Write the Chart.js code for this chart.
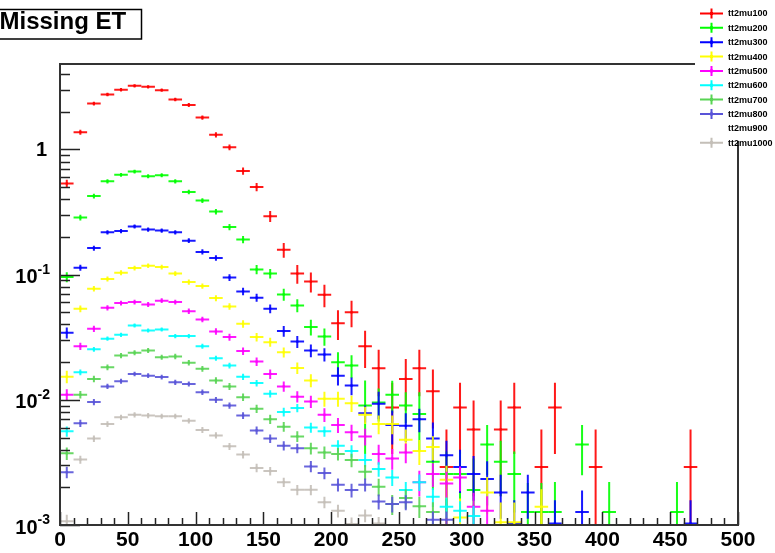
<!DOCTYPE html>
<html><head><meta charset="utf-8">
<script src="https://cdn.jsdelivr.net/npm/chart.js@4.4.0/dist/chart.umd.min.js"></script>
<style>html,body{margin:0;padding:0;background:#fff;overflow:hidden}#wrap{width:775px;height:553px;position:relative}</style>
</head><body><div id="wrap"><canvas id="c" width="775" height="553"></canvas></div>
<script>
// ---------- data ----------
const title = "Missing ET";
const binCenters = [5,15,25,35,45,55,65,75,85,95,105,115,125,135,145,155,165,175,185,195,205,215,225,235,245,255,265,275,285,295,305,315,325,335,345,355,365,375,385,395,405,415,425,435,445,455,465,475,485,495];
const binWidth = 10;
const seriesNames = ["tt2mu100","tt2mu200","tt2mu300","tt2mu400","tt2mu500","tt2mu600","tt2mu700","tt2mu800","tt2mu900","tt2mu1000"];
const seriesColors = ["#ff0000","#00ff00","#0000ff","#ffff00","#ff00ff","#00ffff","#59d454","#5954d8","#ffffff","#c4bfb8"];

const tt2mu100 = [0.535,1.375,2.33,2.75,3.0,3.23,3.17,2.98,2.51,2.27,1.80,1.31,1.04,0.674,0.502,0.293,0.158,0.102,0.088,0.069,0.041,0.050,0.0268,0.0179,0.0087,0.0147,0.0179,0.0117,0.0029,0.0087,0.0058,null,0.0058,0.0087,null,0.0029,0.0087,null,null,0.0029,null,null,null,null,null,null,0.0029];
const tt2mu100Err = [0.0394,0.0631,0.0822,0.0893,0.0933,0.0968,0.0959,0.093,0.0853,0.0811,0.0722,0.0616,0.0549,0.0442,0.0382,0.0292,0.0214,0.0172,0.016,0.0141,0.0109,0.012,0.0088,0.0072,0.0050,0.0065,0.0072,0.0058,0.0029,0.0050,0.0041,null,0.0041,0.0050,null,0.0029,0.0050,null,null,0.0029,null,null,null,null,null,null,0.0029];

const tt2mu200 = [0.0957,0.286,0.425,0.557,0.627,0.667,0.611,0.623,0.557,0.458,0.391,0.319,0.240,0.191,0.110,0.102,0.0695,0.0568,0.0381,0.0321,0.020,0.0188,0.0090,0.0095,0.0110,0.0090,0.0077,0.0032,0.00256,0.00256,0.0019,0.0044,0.0032,0.00256,0.00127,0.00127,0.00127,null,0.0044,null,0.00127,null,null,null,null,0.00127];
const tt2mu200Err = [0.0087,0.0151,0.0184,0.0211,0.0224,0.0231,0.0221,0.0223,0.0211,0.0191,0.0177,0.016,0.0139,0.0124,0.0094,0.009,0.0075,0.0067,0.0055,0.0051,0.004,0.0039,0.0053,0.0028,0.0032,0.0025,0.0038,0.0013,0.0013,0.0013,0.0015,0.0019,0.0015,0.0013,0.0009,0.0009,0.00094,null,0.0019,null,0.00094,null,null,null,null,0.00094];

const tt2mu300 = [0.0344,0.1138,0.163,0.218,0.223,0.243,0.229,0.225,0.218,0.187,0.152,0.136,0.095,0.0735,0.0655,0.0535,0.0354,0.0292,0.0248,0.023,0.0156,0.0130,0.0078,0.0093,0.0063,0.0062,0.0070,0.0049,0.0036,0.0029,0.00256,0.00233,0.00182,0.00103,0.00182,null,0.00103,null,0.00127,null,null,null,null,null,null,null,0.00103];
const tt2mu300Err = [0.0035,0.0063,0.0076,0.0087,0.0088,0.0092,0.009,0.0089,0.0087,0.0081,0.0073,0.0069,0.0058,0.0051,0.0048,0.0043,0.0035,0.0032,0.0029,0.0028,0.0026,0.0021,0.0012,0.0023,0.0019,0.0016,0.0015,0.0017,0.0011,0.0011,0.001,0.0009,0.0007,0.00055,0.0007,null,0.00055,null,0.00062,null,null,null,null,null,null,null,0.00055];

const tt2mu400 = [0.0153,0.0535,0.0773,0.0923,0.1037,0.113,0.118,0.115,0.102,0.0873,0.081,0.065,0.0557,0.0405,0.0317,0.0289,0.024,0.018,0.0143,0.0102,0.0102,0.0094,0.0076,0.0064,0.0064,0.0048,0.0039,0.0042,0.0023,0.00115,null,0.00182,0.00105,0.00105,null,0.0014];
const tt2mu400Err = [0.00175,0.0033,0.0039,0.0043,0.0046,0.0048,0.0049,0.0048,0.0045,0.0042,0.004,0.0036,0.0033,0.0028,0.0025,0.0024,0.0022,0.0019,0.0017,0.0014,0.0014,0.0014,0.0012,0.0011,0.0011,0.001,0.00088,0.00092,0.00068,0.00048,null,0.0006,0.00046,0.00046,null,0.00053];

const tt2mu500 = [0.011,0.0268,0.037,0.0544,0.0593,0.0604,0.0578,0.062,0.0604,0.0511,0.0439,0.0352,0.0317,0.0245,0.0202,0.0161,0.0128,0.0106,0.0097,0.0076,0.0063,0.0055,0.0051,0.0037,0.0034,0.0038,0.0022,0.00256,0.00215,0.0024,0.0014,0.0013];
const tt2mu500Err = [0.00115,0.0018,0.0021,0.0026,0.0027,0.0027,0.0026,0.0027,0.0027,0.0025,0.0023,0.0021,0.0020,0.0017,0.0016,0.0014,0.0012,0.0011,0.0011,0.00095,0.00087,0.00081,0.00078,0.00067,0.00064,0.00068,0.00051,0.00055,0.00051,0.00054,0.00041,0.0004];

const tt2mu600 = [0.0056,0.0166,0.0253,0.0308,0.0331,0.0393,0.0358,0.0365,0.0323,0.0323,0.0268,0.0215,0.0188,0.0153,0.0136,0.0112,0.008,0.0086,0.006,0.0056,0.0043,0.0039,0.0033,0.0028,0.0024,0.0019,0.0022,0.00168,0.0014,0.0013,0.00118];
const tt2mu600Err = [0.00053,0.00091,0.0011,0.0012,0.0013,0.0014,0.0013,0.0014,0.0013,0.0013,0.0012,0.001,0.00097,0.00087,0.00082,0.00075,0.00063,0.00066,0.00055,0.00053,0.00046,0.00044,0.00041,0.00037,0.00035,0.00031,0.00033,0.00029,0.00026,0.00025,0.00024];

const tt2mu700 = [0.00374,0.011,0.0147,0.0182,0.0226,0.0238,0.0248,0.0219,0.0222,0.0198,0.0177,0.0143,0.0128,0.0105,0.0085,0.0070,0.0061,0.0051,0.0041,0.0038,0.0037,0.0033,0.00266,0.00202,0.00147,0.00164,0.00141,0.00127];
const tt2mu700Err = [0.00043,0.00074,0.00086,0.00095,0.0011,0.0011,0.0011,0.001,0.0011,0.001,0.00094,0.00085,0.0008,0.00072,0.00065,0.00059,0.00055,0.0005,0.00045,0.00044,0.00043,0.00041,0.00036,0.00032,0.00027,0.00029,0.00027,0.00025];

const tt2mu800 = [0.00264,0.0065,0.0096,0.0128,0.0141,0.0161,0.0156,0.0152,0.0138,0.0134,0.0115,0.0100,0.009,0.0075,0.0057,0.0049,0.0043,0.0041,0.00294,0.0026,0.0021,0.0019,0.0021,0.00154,0.00147,0.00152,null,0.0011,0.0011];
const tt2mu800Err = [0.00028,0.00044,0.00054,0.00062,0.00065,0.0007,0.00068,0.00068,0.00064,0.00063,0.00059,0.00055,0.00052,0.00047,0.00041,0.00038,0.00036,0.00035,0.0003,0.00028,0.00025,0.00024,0.00025,0.00021,0.00021,0.00021,null,0.00018,0.00018];

const tt2mu900 = [];
const tt2mu900Err = [];

const tt2mu1000 = [0.00107,0.00333,0.0049,0.0064,0.00726,0.0076,0.0075,0.0074,0.0074,0.0068,0.00575,0.0052,0.00425,0.00365,0.00286,0.0027,0.0022,0.00191,0.00191,0.00152,0.0013,0.00102,0.00119,0.00103];
const tt2mu1000Err = [0.000135,0.00024,0.00029,0.00033,0.00035,0.00036,0.00036,0.00035,0.00035,0.00034,0.00031,0.0003,0.00027,0.00025,0.00022,0.00021,0.00019,0.00018,0.00018,0.00016,0.00015,0.00013,0.00014,0.00013];

const seriesValues = [tt2mu100,tt2mu200,tt2mu300,tt2mu400,tt2mu500,tt2mu600,tt2mu700,tt2mu800,tt2mu900,tt2mu1000];
const seriesErrors = [tt2mu100Err,tt2mu200Err,tt2mu300Err,tt2mu400Err,tt2mu500Err,tt2mu600Err,tt2mu700Err,tt2mu800Err,tt2mu900Err,tt2mu1000Err];

const xMin = 0, xMax = 500, xMajorStep = 50, xMinorStep = 10;
const yMin = 0.001, yMax = 4.82;
const yTickLabelValues = [1, 0.1, 0.01, 0.001];
const yTickLabelExps = ["", "-1", "-2", "-3"];

// ---------- build ----------
const FONT = "'Liberation Sans', Arial, Helvetica, sans-serif";
const datasets = seriesNames.map((name, s) => {
  const pts = [];
  binCenters.forEach((x, i) => {
    const v = seriesValues[s][i];
    if (v !== null && v !== undefined) pts.push({x: x, y: v, err: seriesErrors[s][i] || 0});
  });
  return {
    label: name,
    data: pts,
    borderColor: seriesColors[s],
    backgroundColor: seriesColors[s],
    pointRadius: 1.6,
    pointStyle: 'rect',
    borderWidth: 0,
    showLine: false,
    order: seriesNames.length - 1 - s
  };
});

const errorBars = {
  id: 'errorBars',
  afterDatasetDraw(chart, args) {
    const ds = chart.data.datasets[args.index];
    const xs = chart.scales.x, ys = chart.scales.y, a = chart.chartArea, ctx = chart.ctx;
    ctx.save();
    ctx.beginPath(); ctx.rect(a.left, a.top, a.right - a.left, a.bottom - a.top); ctx.clip();
    ctx.strokeStyle = ds.borderColor; ctx.lineWidth = 2; ctx.globalAlpha = 0.9;
    ds.data.forEach(p => {
      const xl = xs.getPixelForValue(p.x - binWidth / 2), xr = xs.getPixelForValue(p.x + binWidth / 2);
      const xc = xs.getPixelForValue(p.x), yc = ys.getPixelForValue(p.y);
      const lo = p.y - p.err;
      const yLo = lo > ys.min ? ys.getPixelForValue(lo) : a.bottom;
      const yHi = ys.getPixelForValue(p.y + p.err);
      ctx.beginPath();
      ctx.moveTo(xl, yc); ctx.lineTo(xr, yc);
      ctx.moveTo(xc, yHi); ctx.lineTo(xc, yLo);
      ctx.stroke();
    });
    ctx.restore();
  }
};

const frame = {
  id: 'frame',
  afterDatasetsDraw(chart) {
    const xs = chart.scales.x, ys = chart.scales.y, a = chart.chartArea, ctx = chart.ctx;
    ctx.save();
    ctx.strokeStyle = '#222'; ctx.lineWidth = 1.5;
    for (let d = -3; d <= 0; d++) {
      for (let m = 1; m <= 9; m++) {
        const v = m * Math.pow(10, d);
        if (v < ys.min * 0.999 || v > ys.max) continue;
        const y = Math.round(ys.getPixelForValue(v)) + 0.5;
        const len = m === 1 ? 20 : 10;
        ctx.beginPath(); ctx.moveTo(a.left, y); ctx.lineTo(a.left + len, y); ctx.stroke();
      }
    }
    for (let v = xMin; v <= xMax; v += xMinorStep) {
      const x = Math.round(xs.getPixelForValue(v)) + 0.5;
      const len = v % xMajorStep === 0 ? 13 : 7;
      ctx.beginPath(); ctx.moveTo(x, a.bottom); ctx.lineTo(x, a.bottom - len); ctx.stroke();
    }
    ctx.lineWidth = 2; ctx.strokeStyle = '#333';
    ctx.strokeRect(a.left, a.top, a.right - a.left, a.bottom - a.top);
    ctx.fillStyle = '#000';
    yTickLabelValues.forEach((v, i) => {
      const y = ys.getPixelForValue(v);
      if (yTickLabelExps[i] === "") {
        ctx.font = "bold 20px " + FONT; ctx.textAlign = 'right'; ctx.textBaseline = 'alphabetic';
        ctx.fillText("1", 47, y + 6.5);
      } else {
        ctx.font = "bold 20px " + FONT; ctx.textAlign = 'right'; ctx.textBaseline = 'alphabetic';
        ctx.fillText("10", 37.5, y + 8.5);
        ctx.font = "bold 14px " + FONT; ctx.textAlign = 'left';
        ctx.fillText(yTickLabelExps[i], 37.5, y - 1);
      }
    });
    ctx.restore();
  },
  afterDraw(chart) {
    const ctx = chart.ctx;
    ctx.save();
    ctx.fillStyle = '#fff'; ctx.fillRect(-3, 9, 145, 31);
    ctx.strokeStyle = '#000'; ctx.lineWidth = 1.5;
    ctx.strokeRect(-3, 9.5, 144.5, 29.5);
    ctx.fillStyle = '#000'; ctx.font = "bold 24px " + FONT; ctx.textAlign = 'left'; ctx.textBaseline = 'alphabetic';
    ctx.fillText(title, -0.5, 28.5);
    ctx.fillStyle = '#fff'; ctx.fillRect(695, 0, 80, 141);
    seriesNames.forEach((name, s) => {
      const y = 13.5 + s * 14.35;
      ctx.strokeStyle = seriesColors[s]; ctx.lineWidth = 2;
      ctx.beginPath(); ctx.moveTo(700, y); ctx.lineTo(723, y); ctx.moveTo(711.5, y - 5); ctx.lineTo(711.5, y + 5); ctx.stroke();
      ctx.fillStyle = seriesColors[s]; ctx.fillRect(710, y - 1.5, 3, 3);
      ctx.fillStyle = '#000'; ctx.font = "bold 9px " + FONT; ctx.textAlign = 'left'; ctx.textBaseline = 'middle';
      ctx.fillText(name, 728, y + 0.5);
    });
    ctx.restore();
  }
};

new Chart(document.getElementById('c'), {
  type: 'scatter',
  data: { datasets },
  options: {
    responsive: false, animation: false, devicePixelRatio: 1,
    layout: { padding: { left: 60, right: 37, top: 64, bottom: 0 } },
    plugins: { legend: { display: false }, tooltip: { enabled: false }, title: { display: false } },
    scales: {
      x: {
        type: 'linear', min: xMin, max: xMax,
        grid: { display: false, drawTicks: false }, border: { display: false },
        ticks: { stepSize: xMajorStep, autoSkip: false, maxRotation: 0, padding: 3, color: '#000',
                 font: { family: FONT, size: 21, weight: 'bold' } },
        afterFit: s => { s.height = 28; }
      },
      y: {
        type: 'logarithmic', min: yMin, max: yMax,
        grid: { display: false, drawTicks: false }, border: { display: false },
        ticks: { display: false },
        afterFit: s => { s.width = 0; }
      }
    }
  },
  plugins: [errorBars, frame]
});
</script></body></html>
